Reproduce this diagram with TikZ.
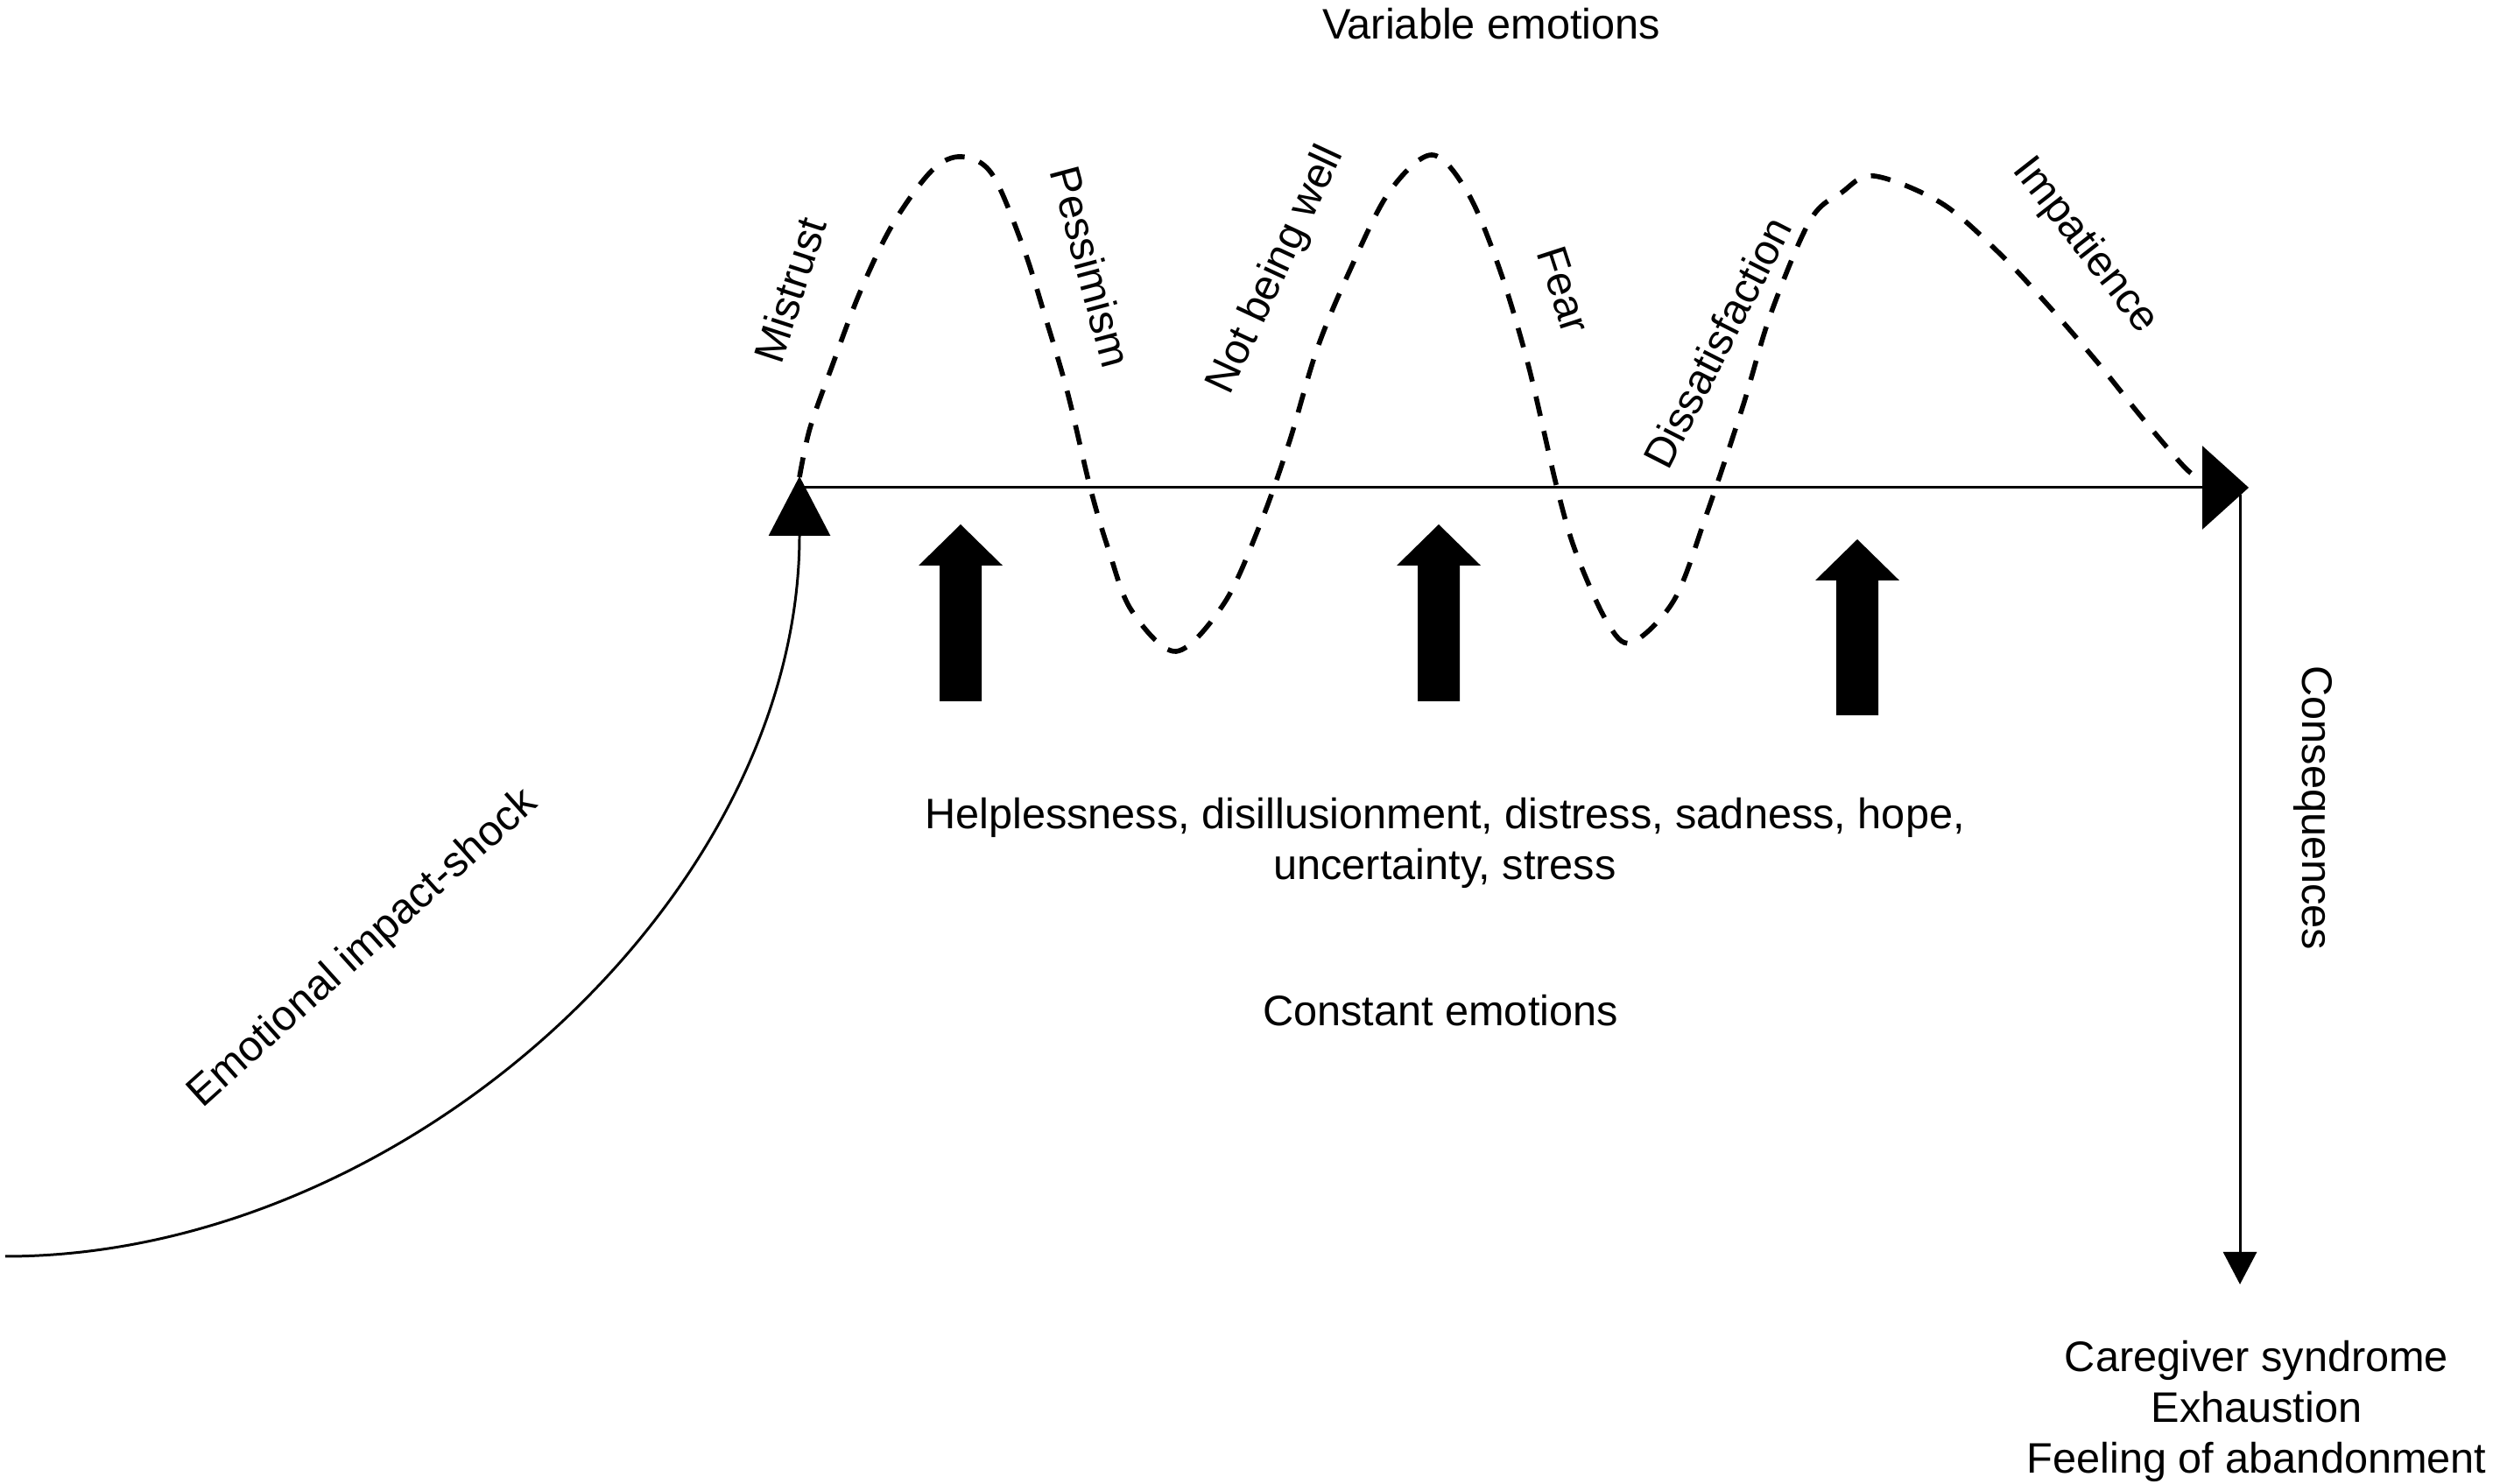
\documentclass[tikz,border=0pt]{standalone}
\usepackage{fontspec}
\setmainfont{Liberation Sans}
\usetikzlibrary{arrows.meta, positioning, calc}

\begin{document}
\begin{tikzpicture}[
    emo/.style={font=\fontsize{13.85}{16.5}\selectfont, inner sep=0pt},
    wavy/.style={line width=1.6pt, dash pattern=on 6.5pt off 5pt},
    thinline/.style={line width=0.85pt}]
  \useasboundingbox (0,0) rectangle (28.47,16.95);

  % main path points
  \coordinate (shock) at (0.06,2.60);
  \coordinate (onset) at (9.13,11.51);
  \coordinate (lineA) at (9.19,11.38);
  \coordinate (lineB) at (25.68,11.38);
  \coordinate (drop) at (25.58,11.30);
  \coordinate (outcome) at (25.58,2.28);

  % emotional impact curve
  \draw[thinline, -{Triangle[length=0.68cm,width=0.70cm]}]
    (shock) .. controls (4.6,2.60) and (9.13,6.7) .. (onset);
  \draw[thinline, -{Triangle[length=0.53cm,width=0.95cm]}] (lineA) -- (lineB);
  \draw[thinline, -{Triangle[length=0.37cm,width=0.38cm]}] (drop) -- (outcome);

  % variable emotions
  \draw[wavy] plot[smooth, tension=0.55] coordinates {
    (9.13,11.50) (9.25,12.06) (9.51,12.79) (9.82,13.61) (10.19,14.38)
    (10.64,15.00) (10.98,15.16) (11.33,14.96) (11.68,14.14) (11.94,13.32)
    (12.19,12.47) (12.45,11.38) (12.66,10.67) (12.92,9.98) (13.43,9.51)
    (13.98,10.06) (14.39,10.96) (14.72,11.89) (15.04,12.96) (15.41,13.85)
    (15.86,14.75) (16.35,15.18) (16.76,14.75) (17.12,13.89) (17.45,12.79)
    (17.78,11.38) (18.00,10.63) (18.35,9.85) (18.63,9.61) (19.12,10.10)
    (19.49,11.08) (19.90,12.30) (20.22,13.36) (20.67,14.43) (21.03,14.75)
    (21.40,14.94) (22.17,14.63) (22.83,14.06) (23.40,13.45) (23.97,12.79)
    (24.46,12.18) (24.95,11.61) (25.12,11.49)};

  % constant emotions arrows
  \foreach \x/\t/\b in {10.97/10.96/8.94, 16.43/10.96/8.94, 21.21/10.79/8.78}
    \fill (\x-0.24,\b) -- (\x-0.24,\t-0.47) -- (\x-0.48,\t-0.47) -- (\x,\t)
      -- (\x+0.48,\t-0.47) -- (\x+0.24,\t-0.47) -- (\x+0.24,\b) -- cycle;

  \node[emo, anchor=base] (varemo) at (17.03,16.50) {Variable emotions};
  \node[emo, rotate=72] (mistrust) at (9.02,13.64) {Mistrust};
  \node[emo, rotate=-75] (pessim) at (12.46,13.90) {Pessimism};
  \node[emo, rotate=65] (notwell) at (14.58,13.86) {Not being well};
  \node[emo, rotate=-72] (fear) at (17.86,13.64) {Fear};
  \node[emo, rotate=63] (dissat) at (19.61,13.04) {Dissatisfaction};
  \node[emo, rotate=-52] (impat) at (23.81,14.14) {Impatience};

  \node[emo, align=center, anchor=north] (constlist) at (16.50,7.84)
    {Helplessness, disillusionment, distress, sadness, hope,\\uncertainty, stress};
  \node[emo, anchor=base] (constemo) at (16.45,5.23) {Constant emotions};
  \node[emo, rotate=42] (shocklbl) at (4.15,6.11) {Emotional impact-shock};
  \node[emo, rotate=-90] (conseq) at (26.41,7.72) {Consequences};
  \node[emo, align=center, anchor=north] (burden) at (25.77,1.64)
    {Caregiver syndrome\\Exhaustion\\Feeling of abandonment};
\end{tikzpicture}
\end{document}
